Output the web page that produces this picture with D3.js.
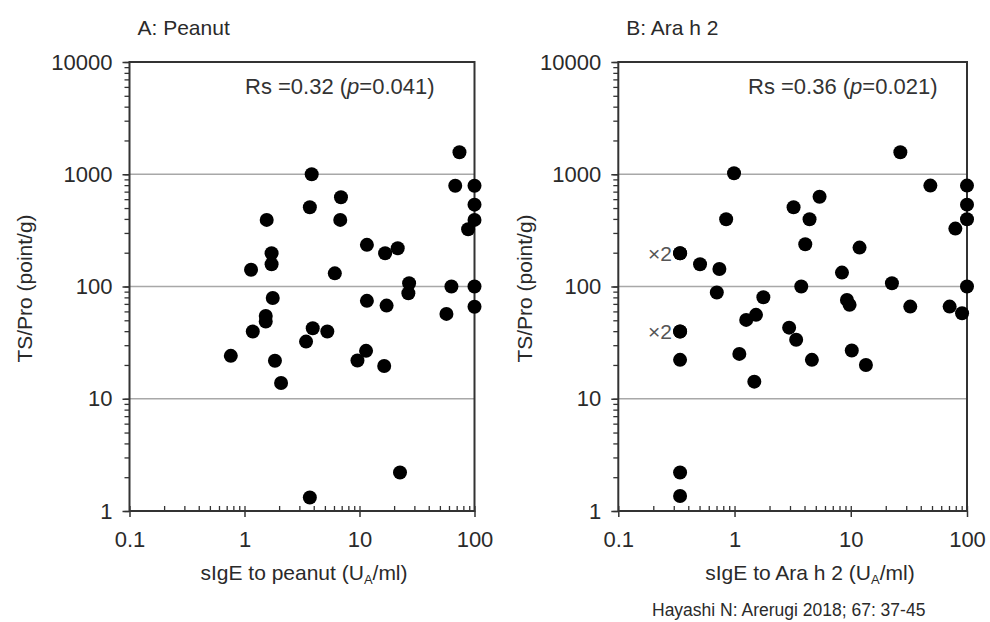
<!DOCTYPE html>
<html>
<head>
<meta charset="utf-8">
<script src="https://cdn.jsdelivr.net/npm/d3@7"></script>
<style>
body { margin: 0; background: #fff; }
svg { display: block; font-family: "Liberation Sans", Arial, sans-serif; }
</style>
</head>
<body>
<div id="canvas"></div>
<script>
// values
var peanutX = [74, 3.84, 68, 100, 6.9, 3.7, 100, 1.56, 6.8, 100, 88, 11.6, 16.7, 21.5, 1.72, 1.72, 1.14, 6.1, 27, 63, 100,
               26.6, 1.76, 11.6, 17.2, 100, 57, 1.53, 1.53, 1.18, 3.92, 5.25, 3.43, 0.76, 1.84, 11.4, 9.6, 16.4, 2.08, 22.5, 3.7];
var peanutY = [1570, 1000, 790, 790, 624, 508, 536, 392, 392, 392, 324, 235, 198, 219, 198, 158, 141, 131, 107, 100, 100,
               87, 79, 74.5, 67.6, 66, 57, 54.7, 48.7, 39.7, 42.5, 39.7, 32.3, 24.1, 21.8, 26.7, 21.9, 19.6, 13.8, 2.2, 1.32];

var arah2X = [26.7, 0.99, 48.4, 100, 5.39, 3.22, 100, 0.847, 4.42, 100, 79.4, 4.06, 11.9, 0.34, 0.34, 0.505, 0.741, 8.4, 3.75, 22.6, 100,
              0.704, 1.77, 9.27, 9.77, 32.5, 70.9, 90.7, 1.26, 1.53, 0.34, 0.34, 2.95, 3.39, 1.10, 4.63, 10.2, 13.5, 0.34, 1.48, 0.34, 0.34];
var arah2Y = [1570, 1020, 792, 792, 631, 508, 536, 397, 397, 397, 328, 238, 222, 198, 198, 158, 143, 133, 100, 107, 100,
              88.3, 80.3, 76, 68.6, 66.2, 66.2, 57.8, 50.4, 55.9, 39.7, 39.7, 43, 33.5, 25.1, 22.2, 26.9, 20.0, 22.2, 14.2, 2.2, 1.36];

var xTicks = [0.1, 1, 10, 100];
var yTicks = [1, 10, 100, 1000, 10000];
var gridTicks = [10, 100, 1000];

var width = 990, height = 622;
var plotTop = 62, plotBottom = 511;

var svg = d3.select("#canvas").append("svg").attr("width", width).attr("height", height);
svg.append("rect").attr("width", width).attr("height", height).attr("fill", "#fff");

var panels = [
    { x0: 129.5, x1: 474.5, xs: peanutX, ys: peanutY, title: "A: Peanut", rs: "0.32", p: "0.041",
      xlab: "sIgE to peanut ", xlabX: 304, ylabX: 24, rsX: 245 },
    { x0: 618.3, x1: 967, xs: arah2X, ys: arah2Y, title: "B: Ara h 2", rs: "0.36", p: "0.021",
      xlab: "sIgE to Ara h 2 ", xlabX: 810, ylabX: 524, rsX: 748 }
];

var fmt = function(d) { return String(d); };

panels.forEach(function(pn) {
    var x = d3.scaleLog().domain([0.1, 100]).range([pn.x0, pn.x1]);
    var y = d3.scaleLog().domain([1, 10000]).range([plotBottom, plotTop]);
    var g = svg.append("g");

    // grid lines
    g.selectAll("line.grid").data(gridTicks).join("line")
        .attr("class", "grid")
        .attr("x1", pn.x0).attr("x2", pn.x1)
        .attr("y1", function(d) { return y(d); }).attr("y2", function(d) { return y(d); })
        .attr("stroke", "#a8a8a8").attr("stroke-width", 1.5);

    // minor ticks on y (outside, left)
    g.append("g").attr("transform", "translate(" + pn.x0 + ",0)")
        .call(d3.axisLeft(y).tickValues(y.ticks()).tickSize(5).tickFormat(""))
        .call(function(a) { a.select(".domain").remove(); a.selectAll("line").attr("stroke", "#333").attr("stroke-width", 1.3); });
    // major y ticks + labels
    g.append("g").attr("transform", "translate(" + pn.x0 + ",0)")
        .call(d3.axisLeft(y).tickValues(yTicks).tickSize(7).tickPadding(10).tickFormat(fmt))
        .call(function(a) {
            a.select(".domain").remove();
            a.selectAll("line").attr("stroke", "#333").attr("stroke-width", 1.5);
            a.selectAll("text").attr("font-size", 22).attr("fill", "#2a2a2a")
                .attr("font-family", "Liberation Sans, Arial, sans-serif");
        });

    // minor ticks on x (inside, up)
    g.append("g").attr("transform", "translate(0," + plotBottom + ")")
        .call(d3.axisTop(x).tickValues(x.ticks()).tickSize(5).tickFormat(""))
        .call(function(a) { a.select(".domain").remove(); a.selectAll("line").attr("stroke", "#333").attr("stroke-width", 1.3); });
    // major x ticks + labels
    g.append("g").attr("transform", "translate(0," + plotBottom + ")")
        .call(d3.axisBottom(x).tickValues(xTicks).tickSize(6).tickPadding(14).tickFormat(fmt))
        .call(function(a) {
            a.select(".domain").remove();
            a.selectAll("line").attr("stroke", "#333").attr("stroke-width", 1.5);
            a.selectAll("text").attr("font-size", 22).attr("fill", "#2a2a2a")
                .attr("font-family", "Liberation Sans, Arial, sans-serif");
        });

    // frame
    g.append("rect").attr("x", pn.x0).attr("y", plotTop)
        .attr("width", pn.x1 - pn.x0).attr("height", plotBottom - plotTop)
        .attr("fill", "none").attr("stroke", "#333").attr("stroke-width", 2);

    // points
    g.selectAll("circle").data(d3.range(pn.xs.length)).join("circle")
        .attr("cx", function(i) { return x(pn.xs[i]); })
        .attr("cy", function(i) { return y(pn.ys[i]); })
        .attr("r", 7)
        .attr("fill", "#000");

    // titles
    svg.append("text").attr("x", pn.x0 + 8).attr("y", 35)
        .attr("font-size", 21).attr("fill", "#2a2a2a").text(pn.title);

    var rs = svg.append("text").attr("x", pn.rsX).attr("y", 94)
        .attr("font-size", 22).attr("fill", "#333");
    rs.append("tspan").text("Rs =" + pn.rs + " (");
    rs.append("tspan").attr("font-style", "italic").text("p");
    rs.append("tspan").text("=" + pn.p + ")");

    var xl = svg.append("text").attr("x", pn.xlabX).attr("y", 580)
        .attr("text-anchor", "middle").attr("font-size", 21).attr("fill", "#2a2a2a");
    xl.append("tspan").text(pn.xlab + "(U");
    xl.append("tspan").attr("font-size", 13).attr("dy", 4).text("A");
    xl.append("tspan").attr("dy", -4).text("/ml)");

    svg.append("text")
        .attr("transform", "translate(" + pn.ylabX + "," + ((plotTop + plotBottom) / 2 + 2) + ") rotate(-90)")
        .attr("text-anchor", "middle").attr("dominant-baseline", "central")
        .attr("font-size", 21).attr("fill", "#2a2a2a").text("TS/Pro (point/g)");
});

// "x2" markers next to the overlapping points in panel B
var dupX = [0.34, 0.34];
var dupY = [198, 39.7];
var xb = d3.scaleLog().domain([0.1, 100]).range([panels[1].x0, panels[1].x1]);
var yb = d3.scaleLog().domain([1, 10000]).range([plotBottom, plotTop]);
svg.selectAll("text.dup").data(d3.range(dupX.length)).join("text")
    .attr("class", "dup")
    .attr("x", function(i) { return xb(dupX[i]) - 8; })
    .attr("y", function(i) { return yb(dupY[i]); })
    .attr("dominant-baseline", "central").attr("text-anchor", "end")
    .attr("font-size", 21).attr("fill", "#555").text("\u00d72");

svg.append("text").attr("x", 652).attr("y", 616)
    .attr("font-size", 17.5).attr("fill", "#2a2a2a")
    .text("Hayashi N: Arerugi 2018; 67: 37-45");
</script>
</body>
</html>
